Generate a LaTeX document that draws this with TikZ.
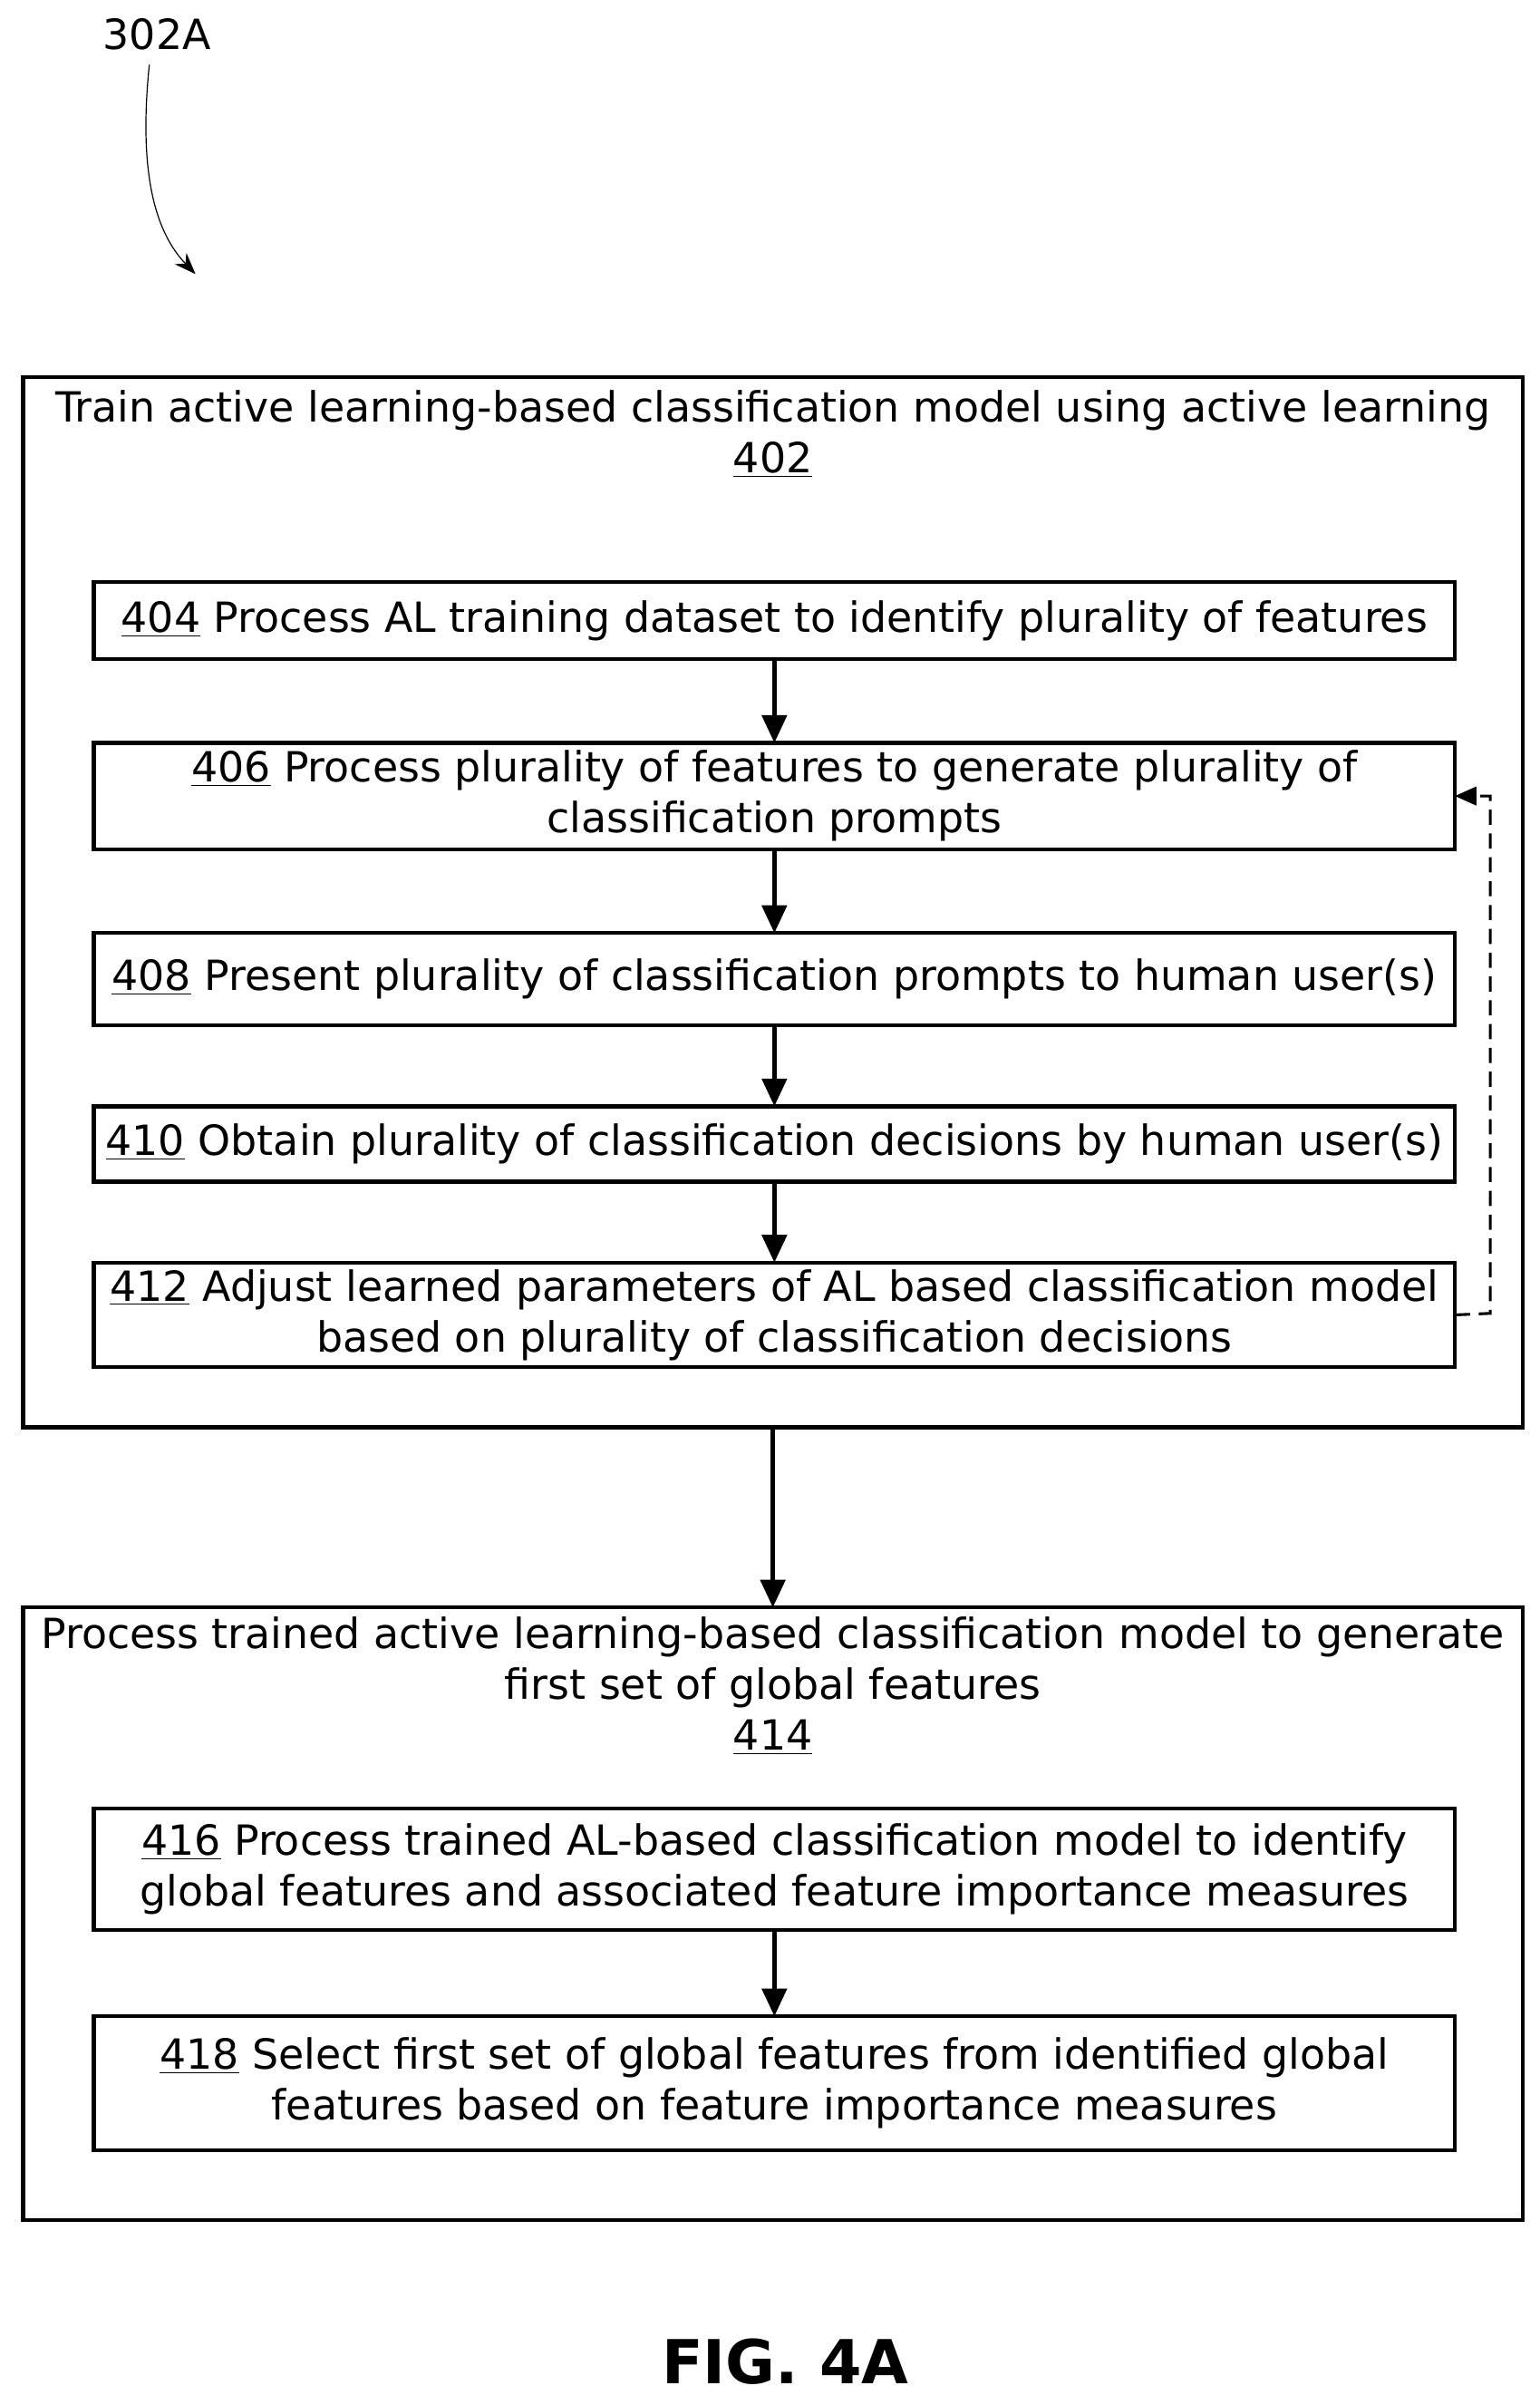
\documentclass[tikz,border=0pt]{standalone}
\usepackage{fontspec}
\setmainfont{DejaVu Sans}
\usetikzlibrary{arrows.meta, positioning}

\begin{document}
\begin{tikzpicture}[
    x=0.025cm, y=-0.025cm,
    every node/.style={font=\fontsize{19.2}{23.5}\selectfont},
    outer/.style={draw, line width=1.8pt, minimum width=974*0.025cm, outer sep=0pt},
    stepbox/.style={draw, line width=1.8pt, minimum width=884*0.025cm, align=center, inner sep=0pt, outer sep=0pt},
    arrow/.style={-{Triangle[length=4.5mm, width=4mm]}, line width=2pt}
  ]
  \useasboundingbox (0,0) rectangle (1000,1562);

  % reference label
  \node (ref) at (102,22) {302A};
  \draw[-{Stealth[length=3.5mm]}, line width=0.5pt] (97,42) .. controls (90,110) and (100,150) .. (127,178);

  % first group
  \node[outer, minimum height=682*0.025cm] (train) at (502,586) {};
  \node[align=center] (traint) at (502,282) {Train active learning-based classification model using active learning\\\underline{402}};

  \node[stepbox, minimum height=50*0.025cm] (s404) at (503,403) {\underline{404} Process AL training dataset to identify plurality of features};
  \node[stepbox, minimum height=69*0.025cm] (s406) at (503,517) {\underline{406} Process plurality of features to generate plurality of\\classification prompts};
  \node[stepbox, minimum height=60*0.025cm] (s408) at (503,636) {\underline{408} Present plurality of classification prompts to human user(s)};
  \node[stepbox, minimum height=49*0.025cm] (s410) at (503,743) {\underline{410} Obtain plurality of classification decisions by human user(s)};
  \node[stepbox, minimum height=68*0.025cm] (s412) at (503,854) {\underline{412} Adjust learned parameters of AL based classification model\\based on plurality of classification decisions};

  \draw[arrow] (s404) -- (s406);
  \draw[arrow] (s406) -- (s408);
  \draw[arrow] (s408) -- (s410);
  \draw[arrow] (s410) -- (s412);
  \coordinate (back) at (968,853);
  \draw[-{Triangle[length=3.5mm, width=3mm]}, line width=1.3pt, dash pattern=on 7pt off 4pt] (s412.east) -- (back) |- (s406.east);

  % second group
  \node[outer, minimum height=398*0.025cm] (proc) at (502,1243) {};
  \node[align=center] (proct) at (502,1095) {Process trained active learning-based classification model to generate\\first set of global features\\\underline{414}};

  \node[stepbox, minimum height=79*0.025cm] (s416) at (503,1214) {\underline{416} Process trained AL-based classification model to identify\\global features and associated feature importance measures};
  \node[stepbox, minimum height=87*0.025cm] (s418) at (503,1353) {\underline{418} Select first set of global features from identified global\\features based on feature importance measures};

  \draw[arrow] (s416) -- (s418);
  \draw[arrow] (train) -- (proc);

  \node[font=\fontsize{28}{32}\selectfont\bfseries] (fig) at (510,1534) {FIG. 4A};
\end{tikzpicture}
\end{document}
